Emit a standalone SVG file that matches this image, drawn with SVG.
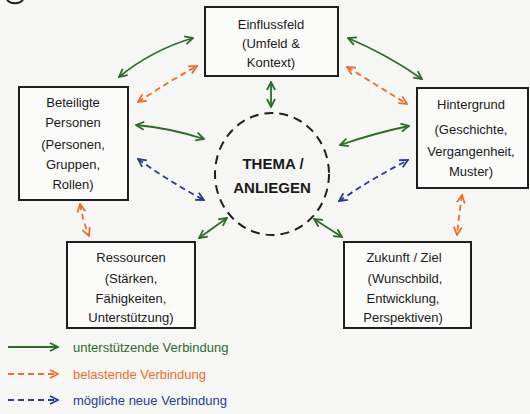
<svg xmlns="http://www.w3.org/2000/svg" width="530" height="414" viewBox="0 0 530 414">
<defs>
<style>
.bg{fill:#f6f6f5}
.box{fill:#fbfbfa;stroke:#1e1e1e;stroke-width:2}
.t{font-family:"Liberation Sans",Arial,sans-serif;font-size:13px;fill:#1a1a1a;text-anchor:middle}
.th{font-family:"Liberation Sans",Arial,sans-serif;font-size:15px;font-weight:bold;fill:#1a1a1a;text-anchor:middle}
.lg{font-family:"Liberation Sans",Arial,sans-serif;font-size:13px}
.g{fill:none;stroke:#2f6a2c;stroke-width:1.8;marker-start:url(#hg);marker-end:url(#hg)}
.o{fill:none;stroke:#e8702c;stroke-width:1.8;stroke-dasharray:6 4;marker-start:url(#ho);marker-end:url(#ho)}
.b{fill:none;stroke:#2b3b8e;stroke-width:1.8;stroke-dasharray:6 4;marker-start:url(#hb);marker-end:url(#hb)}
</style>
<marker id="hg" viewBox="0 0 10 10" refX="9" refY="5" markerWidth="10" markerHeight="10" markerUnits="userSpaceOnUse" orient="auto-start-reverse"><path d="M1,1 L9,5 L1,9" fill="none" stroke="#2f6a2c" stroke-width="1.8"/></marker>
<marker id="ho" viewBox="0 0 10 10" refX="9" refY="5" markerWidth="10" markerHeight="10" markerUnits="userSpaceOnUse" orient="auto-start-reverse"><path d="M1,1 L9,5 L1,9" fill="none" stroke="#e8702c" stroke-width="1.8"/></marker>
<marker id="hb" viewBox="0 0 10 10" refX="9" refY="5" markerWidth="10" markerHeight="10" markerUnits="userSpaceOnUse" orient="auto-start-reverse"><path d="M1,1 L9,5 L1,9" fill="none" stroke="#2b3b8e" stroke-width="1.8"/></marker>
</defs>
<rect class="bg" x="0" y="0" width="530" height="414"/>
<path d="M7,0 A9,6 0 0 0 23,0" fill="none" stroke="#1e1e1e" stroke-width="2"/>

<g id="connectors">
<path class="g" d="M119,77 Q152,50 193,38"/>
<path class="o" d="M138,102 Q168,82 197,66"/>
<path class="g" d="M136,125 Q170,128 204,139"/>
<path class="b" d="M138,159 Q170,182 204,200"/>
<path class="g" d="M271,82 L271,107"/>
<path class="g" d="M348,38 Q388,55 422,79"/>
<path class="o" d="M347,67 Q378,86 407,104"/>
<path class="g" d="M340,145 Q375,133 409,126"/>
<path class="b" d="M339,201 Q373,178 408,160"/>
<path class="o" d="M462,195 Q459,215 457,235"/>
<path class="o" d="M80,204 Q83,221 89,236"/>
<path class="g" d="M199,238 L227,218"/>
<path class="g" d="M314,219 L342,237"/>
</g>

<g id="thema">
<ellipse cx="272" cy="174" rx="57" ry="61" fill="none" stroke="#1e1e1e" stroke-width="2" stroke-dasharray="9 6"/>
<text class="th" x="273" y="169">THEMA /</text>
<text class="th" x="272" y="193">ANLIEGEN</text>
</g>

<g id="einflussfeld">
<rect class="box" x="205" y="7" width="133" height="69"/>
<text class="t" x="271" y="29">Einflussfeld</text>
<text class="t" x="271" y="48">(Umfeld &amp;</text>
<text class="t" x="271" y="67">Kontext)</text>
</g>

<g id="beteiligte">
<rect class="box" x="19" y="87" width="109" height="113"/>
<text class="t" x="73" y="107">Beteiligte</text>
<text class="t" x="73" y="127">Personen</text>
<text class="t" x="73" y="149">(Personen,</text>
<text class="t" x="73" y="169">Gruppen,</text>
<text class="t" x="73" y="189">Rollen)</text>
</g>

<g id="hintergrund">
<rect class="box" x="417" y="88" width="111" height="100"/>
<text class="t" x="471" y="109">Hintergrund</text>
<text class="t" x="471" y="134">(Geschichte,</text>
<text class="t" x="471" y="156">Vergangenheit,</text>
<text class="t" x="471" y="176">Muster)</text>
</g>

<g id="ressourcen">
<rect class="box" x="67" y="242" width="128" height="86"/>
<text class="t" x="131" y="262">Ressourcen</text>
<text class="t" x="131" y="283">(Stärken,</text>
<text class="t" x="131" y="303">Fähigkeiten,</text>
<text class="t" x="131" y="322">Unterstützung)</text>
</g>

<g id="zukunft">
<rect class="box" x="344" y="242" width="127" height="86"/>
<text class="t" x="404" y="262">Zukunft / Ziel</text>
<text class="t" x="405" y="283">(Wunschbild,</text>
<text class="t" x="403" y="303">Entwicklung,</text>
<text class="t" x="403" y="322">Perspektiven)</text>
</g>

<g id="legende">
<path d="M8,347 L58,347" fill="none" stroke="#2f6a2c" stroke-width="1.8" marker-end="url(#hg)"/>
<text class="lg" x="73" y="352" fill="#2f6a2c">unterstützende Verbindung</text>
<path d="M8,374 L58,374" fill="none" stroke="#e8702c" stroke-width="1.8" stroke-dasharray="6 4" marker-end="url(#ho)"/>
<text class="lg" x="73" y="379" fill="#e8702c">belastende Verbindung</text>
<path d="M8,400 L58,400" fill="none" stroke="#2b3b8e" stroke-width="1.8" stroke-dasharray="6 4" marker-end="url(#hb)"/>
<text class="lg" x="73" y="405" fill="#2b3b8e">mögliche neue Verbindung</text>
</g>
</svg>
